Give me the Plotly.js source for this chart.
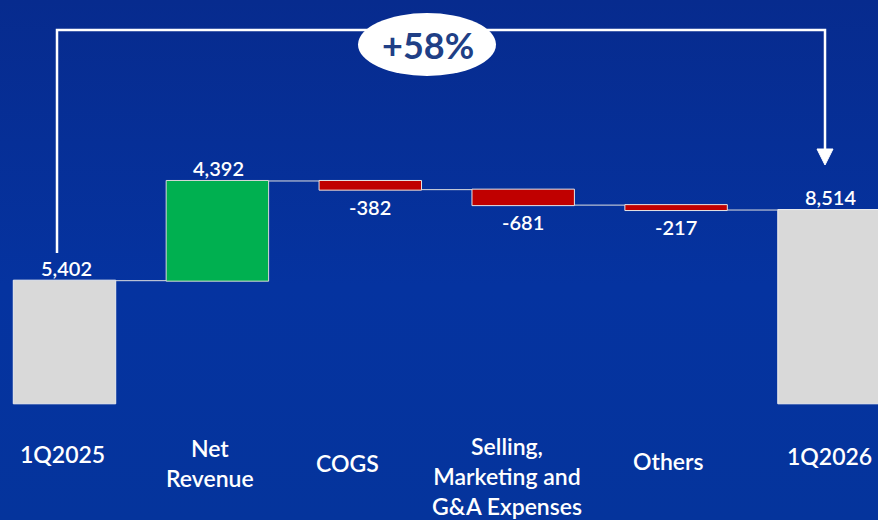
<!DOCTYPE html>
<html>
<head>
<meta charset="utf-8">
<script src="https://cdn.plot.ly/plotly-3.0.1.min.js"></script>
<style>
  html, body { margin: 0; padding: 0; }
  body { width: 878px; height: 520px; overflow: hidden;
         background: linear-gradient(180deg, #072b8e 0%, #0533a0 55%, #05349c 100%); }
  #chart { width: 878px; height: 520px; }
</style>
</head>
<body>
<div id="chart"></div>
<script>
// ---- data ----
const categories = ['1Q2025', 'Net<br>Revenue', 'COGS', 'Selling,<br>Marketing and<br>G&A Expenses', 'Others', '1Q2026'];
const values = [5402, 4392, -382, -681, -217, 8514];
const measures = ['absolute', 'relative', 'relative', 'relative', 'relative', 'total'];

// ---- layout helpers (pixel -> paper, margins are zero) ----
const W = 878, H = 520;
const px = x => x / W;
const py = y => 1 - y / H;

// label vertical centres (px) and horizontal nudges (px) for category labels
const catLabelY = [454, 463, 463, 476, 461, 456];
const catLabelDX = [-2, -7, -23, -16, -8, 0];

const FONT = 'Lato, "Open Sans", sans-serif';

// cumulative positions for value labels
const annotations = [];
let running = 0;
values.forEach((v, i) => {
  let top, bottom;
  if (measures[i] === 'absolute') { bottom = 0; top = v; running = v; }
  else if (measures[i] === 'total') { bottom = 0; top = running; }
  else { const start = running; running += v; top = Math.max(start, running); bottom = Math.min(start, running); }
  const shown = measures[i] === 'total' ? running : v;
  const txt = (shown < 0 ? '-' : '') + Math.abs(shown).toLocaleString('en-US');
  if (v >= 0 || measures[i] !== 'relative') {
    annotations.push({ x: categories[i], y: top, xref: 'x', yref: 'y', text: txt, showarrow: false,
      yanchor: 'bottom', yshift: -1, xshift: i === 0 ? 2 : 1,
      font: { family: FONT, size: 20, color: '#ffffff', weight: 600 } });
  } else {
    annotations.push({ x: categories[i], y: bottom, xref: 'x', yref: 'y', text: txt, showarrow: false,
      yanchor: 'top', yshift: -3,
      font: { family: FONT, size: 20, color: '#ffffff', weight: 600 } });
  }
  annotations.push({ x: categories[i], y: py(catLabelY[i]), xref: 'x', yref: 'paper', text: categories[i],
    showarrow: false, yanchor: 'middle', xanchor: 'center', xshift: catLabelDX[i],
    font: { family: FONT, size: 23, color: '#ffffff', weight: 600 } });
});

const growth = Math.round((running / values[0] - 1) * 100);
annotations.push({ x: px(428), y: py(45), xref: 'paper', yref: 'paper', text: '<b>+' + growth + '%</b>',
  xanchor: 'center', yanchor: 'middle',
  showarrow: false, font: { family: FONT, size: 36, color: '#203f86' } });

const shapes = [
  { type: 'path', xref: 'paper', yref: 'paper',
    path: `M ${px(57)},${py(253)} L ${px(57)},${py(30)} L ${px(825)},${py(30)} L ${px(825)},${py(152)}`,
    line: { color: '#ffffff', width: 2.5 } },
  { type: 'path', xref: 'paper', yref: 'paper',
    path: `M ${px(817)},${py(149)} L ${px(833)},${py(149)} L ${px(825)},${py(165)} Z`,
    fillcolor: '#ffffff', line: { color: '#ffffff', width: 1 } },
  { type: 'circle', xref: 'paper', yref: 'paper',
    x0: px(358), x1: px(496), y0: py(76), y1: py(13),
    fillcolor: '#ffffff', line: { color: '#ffffff', width: 0 } }
];

const trace = {
  type: 'waterfall',
  x: categories,
  y: values,
  measure: measures,
  width: 0.67,
  textinfo: 'none',
  hoverinfo: 'none',
  increasing: { marker: { color: '#00b050', line: { color: '#d9d9d9', width: 1 } } },
  decreasing: { marker: { color: '#c00000', line: { color: '#e6e6e6', width: 1 } } },
  totals: { marker: { color: '#d9d9d9', line: { color: '#eeeeee', width: 1 } } },
  connector: { mode: 'between', line: { color: '#e0e0e0', width: 1 } }
};

const layout = {
  width: W, height: H, autosize: false,
  margin: { l: 0, r: 0, t: 0, b: 0, pad: 0 },
  paper_bgcolor: 'rgba(0,0,0,0)',
  plot_bgcolor: 'rgba(0,0,0,0)',
  showlegend: false,
  xaxis: { type: 'category', range: [-0.4218, 5.3205], showgrid: false, zeroline: false,
           showticklabels: false, showline: false, fixedrange: true },
  yaxis: { range: [-5141, 17767], showgrid: false, zeroline: false, showticklabels: false,
           showline: false, fixedrange: true },
  annotations: annotations,
  shapes: shapes
};

Plotly.newPlot('chart', [trace], layout, { displayModeBar: false, staticPlot: true });
</script>
</body>
</html>
